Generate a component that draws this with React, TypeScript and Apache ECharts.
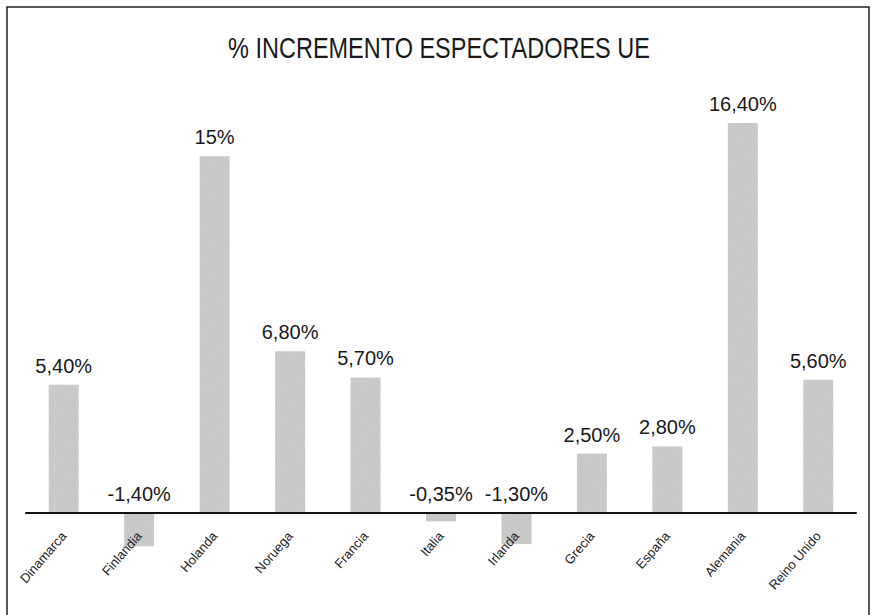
import React, { useEffect, useRef } from "react";
import * as echarts from "echarts";

const title = "% INCREMENTO ESPECTADORES UE";
const categories = ["Dinamarca", "Finlandia", "Holanda", "Noruega", "Francia", "Italia", "Irlanda", "Grecia", "España", "Alemania", "Reino Unido"];
const values = [5.4, -1.4, 15, 6.8, 5.7, -0.35, -1.3, 2.5, 2.8, 16.4, 5.6];
const valueLabels = ["5,40%", "-1,40%", "15%", "6,80%", "5,70%", "-0,35%", "-1,30%", "2,50%", "2,80%", "16,40%", "5,60%"];

export default function App() {
  const ref = useRef<HTMLDivElement>(null);
  useEffect(() => {
    if (!ref.current) return;
    const chart = echarts.init(ref.current, null, { renderer: "svg" });
    const font = "'Liberation Sans', Arial, sans-serif";
    chart.setOption({
      animation: false,
      backgroundColor: "#ffffff",
      graphic: [
        {
          type: "rect",
          shape: { x: 7, y: 7, width: 862, height: 630 },
          style: { fill: "none", stroke: "#222", lineWidth: 1.5 },
          silent: true,
        },
        {
          type: "text",
          x: 439,
          y: 48,
          scaleX: 0.81,
          style: {
            text: title,
            x: 0,
            y: 0,
            align: "center",
            verticalAlign: "middle",
            font: "normal 29px 'Liberation Sans', Arial, sans-serif",
            fill: "#1a1a1a",
          },
          silent: true,
        },
      ],
      grid: { left: 26, right: 16, top: 85, height: 475.6, outerBoundsMode: "none", containLabel: false },
      xAxis: {
        type: "category",
        data: categories,
        z: 10,
        axisLine: { onZero: true, lineStyle: { color: "#111", width: 2 } },
        axisTick: { show: false },
        axisLabel: {
          rotate: 49,
          margin: -27,
          fontFamily: font,
          fontSize: 13,
          color: "#222",
          interval: 0,
        },
      },
      yAxis: {
        type: "value",
        min: -2,
        max: 18,
        show: false,
        splitLine: { show: false },
      },
      series: [
        {
          type: "bar",
          data: values,
          barWidth: 30,
          itemStyle: {
            color: "#cbcbcb",
            decal: {
              symbol: "rect",
              symbolSize: 0.6,
              dashArrayX: [1, 2],
              dashArrayY: [1, 2],
              color: "rgba(60,60,60,0.45)",
              rotation: 0.6,
            },
          },
          z: 2,
        },
        {
          type: "bar",
          data: values.map((v) => Math.max(v, 0)),
          barWidth: 30,
          barGap: "-100%",
          itemStyle: { color: "rgba(0,0,0,0)" },
          label: {
            show: true,
            position: "top",
            distance: 9,
            fontFamily: font,
            fontSize: 20,
            color: "#1a1a1a",
            formatter: (p: any) => valueLabels[p.dataIndex],
          },
          z: 3,
        },
      ],
    });
    return () => chart.dispose();
  }, []);
  return <div ref={ref} style={{ position: "absolute", left: 0, top: 0, width: 872, height: 615 }} />;
}
